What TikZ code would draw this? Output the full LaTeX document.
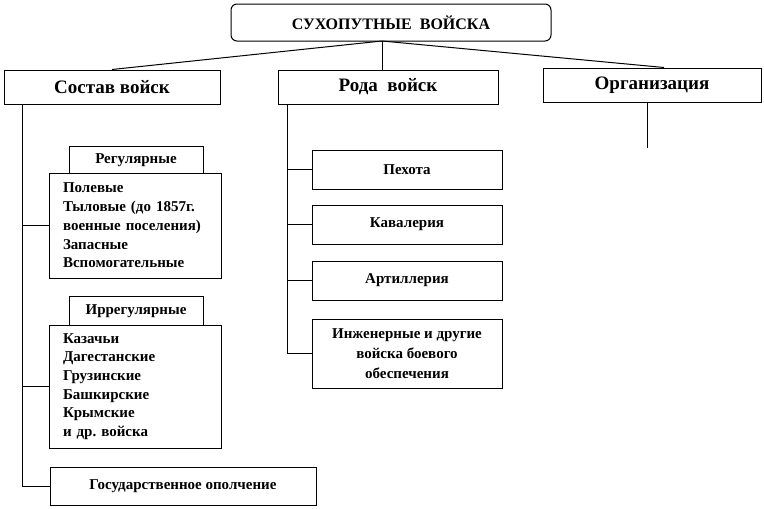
\documentclass[tikz,border=0pt]{standalone}
\usepackage{fontspec}
\setmainfont{Liberation Serif}
\usetikzlibrary{calc}
\frenchspacing
\tikzset{
  box/.style={draw, line width=1pt, fill=white, align=center, inner sep=2pt,
    font=\bfseries\fontsize{15}{18.7}\selectfont},
  headbox/.style={box, minimum height=34pt, font=\bfseries\fontsize{19}{21}\selectfont},
  tabbox/.style={box, minimum width=134pt},
  listbox/.style={box, align=left, text width=144pt, inner xsep=14pt},
  armbox/.style={box, minimum width=190pt, minimum height=39pt},
  link/.style={line width=1pt},
  trunk/.style={line width=.7pt},
}

\begin{document}
\begin{tikzpicture}[x=1pt,y=-1pt]
\useasboundingbox (0,0) rectangle (764,509);
% top
\node[box, rounded corners=6pt, minimum width=320pt, minimum height=37pt,
  font=\bfseries\fontsize{16}{18}\selectfont] (troops) at (391,22.5) {СУХОПУТНЫЕ\ \ ВОЙСКА};
\node[headbox, minimum width=216pt] (sostav) at (112,87) {Состав войск};
\node[headbox, minimum width=220pt] (roda) at (388,87) {Рода\ \ войск};
\node[headbox, minimum width=218pt] (org) at (652,85) {Организация};
\coordinate (hub) at (382,41);
\draw[link] (hub) -- (sostav.north);
\draw[link] (hub) -- (hub |- roda.north);
\draw[link] (hub) -- ($(org.north)+(12,0)$);
% left column
\coordinate (ltrunk) at (22,104);
\node[tabbox, minimum height=28pt] (reg) at (136,160) {Регулярные};
\node[listbox, minimum height=105pt] (polev) at (135,225.5)
  {Полевые\\Тыловые (до 1857г.\\военные поселения)\\Запасные\\Вспомогательные};
\node[tabbox, minimum height=30pt] (irr) at (136,311) {Иррегулярные};
\node[listbox, minimum height=123pt] (kaz) at (135,386.5)
  {Казачьи\\Дагестанские\\Грузинские\\Башкирские\\Крымские\\и др. войска};
\node[box, minimum width=266pt, minimum height=38pt] (gos) at (183,486) {Государственное ополчение};
\draw[trunk] (ltrunk) |- (gos.west);
\foreach \n in {polev,kaz}
  \draw[link] (ltrunk |- \n.west) -- (\n.west);
% right column
\coordinate (rtrunk) at (287,104);
\foreach \n/\y/\t in {pehota/169.5/Пехота, kav/224.5/Кавалерия, art/280.5/Артиллерия} {
  \node[armbox] (\n) at (407,\y) {\t};
  \draw[link] (rtrunk |- \n.west) -- (\n.west);
}
\node[armbox, minimum height=69pt, font=\bfseries\fontsize{15}{20}\selectfont] (inzh) at (407,353.5)
  {Инженерные и другие\\войска боевого\\обеспечения};
\draw[trunk] (rtrunk) |- (inzh.west);
% organisation
\coordinate (otail) at (647,148);
\draw[trunk] (org.south -| otail) -- (otail);
\end{tikzpicture}
\end{document}
